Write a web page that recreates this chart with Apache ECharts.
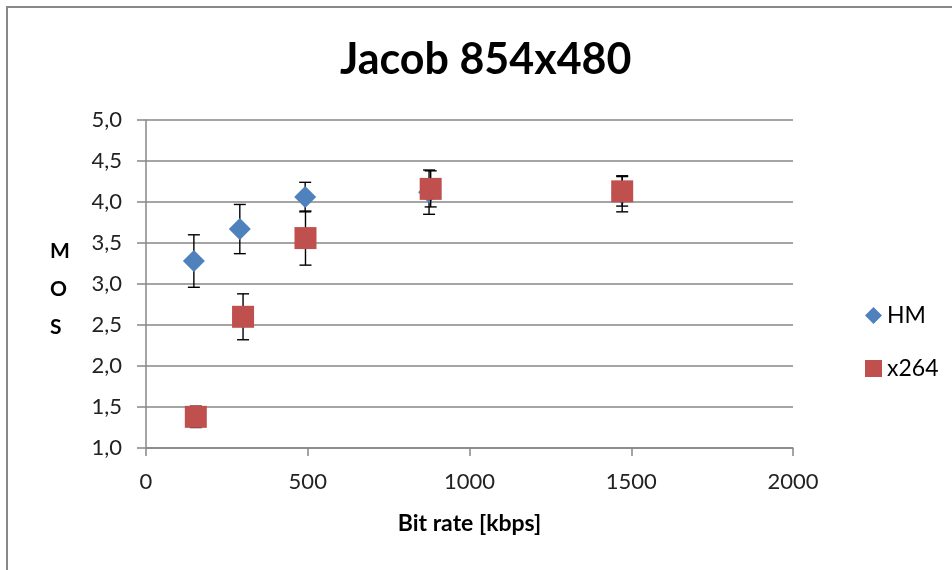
<!DOCTYPE html>
<html><head><meta charset="utf-8">
<script src="https://cdn.jsdelivr.net/npm/echarts@6/dist/echarts.min.js"></script>
<style>html,body{margin:0;padding:0;background:#fff}#c{width:952px;height:570px}</style>
</head><body><div id="c"></div>
<script>
// Data
const hmBitrate   = [148, 290, 492, 875, 1472];
const hmMos       = [3.28, 3.67, 4.06, 4.12, 4.10];
const hmCi        = [0.32, 0.30, 0.18, 0.27, 0.22];
const x264Bitrate = [154, 300, 493, 880, 1472];
const x264Mos     = [1.38, 2.60, 3.56, 4.16, 4.13];
const x264Ci      = [0.13, 0.28, 0.33, 0.22, 0.18];
const yTickValues = [1.0, 1.5, 2.0, 2.5, 3.0, 3.5, 4.0, 4.5, 5.0];
const yTickLabels = ['1,0','1,5','2,0','2,5','3,0','3,5','4,0','4,5','5,0'];
const xTickLabels = ['0','500','1000','1500','2000'];

const FONT = 'Lato';
const GRID = '#878787';

function pts(xs, ys){ return xs.map((x,i)=>[x, ys[i]]); }
function errs(xs, ys, cs){ return xs.map((x,i)=>[x, ys[i]-cs[i], ys[i]+cs[i]]); }

function errRender(params, api){
  const x = api.value(0), lo = api.value(1), hi = api.value(2);
  const t = api.coord([x, hi]), b = api.coord([x, lo]);
  const w = 6;
  const st = {stroke:'#000', lineWidth:1.4};
  return {type:'group', children:[
    {type:'line', shape:{x1:t[0], y1:t[1], x2:b[0], y2:b[1]}, style:st},
    {type:'line', shape:{x1:t[0]-w, y1:t[1], x2:t[0]+w, y2:t[1]}, style:st},
    {type:'line', shape:{x1:b[0]-w, y1:b[1], x2:b[0]+w, y2:b[1]}, style:st}
  ]};
}

const chart = echarts.init(document.getElementById('c'), null, {renderer:'canvas'});
chart.setOption({
  animation:false,
  backgroundColor:'#fff',
  graphic:[
    {type:'rect', shape:{x:7, y:7, width:1100, height:1100}, style:{fill:'none', stroke:'#888', lineWidth:2}, silent:true},
    {type:'text', left:50, top:232, style:{text:'M\nO\nS', fontFamily:FONT, fontWeight:'bold', fontSize:21, lineHeight:38, fill:'#000', align:'center'}, silent:true}
  ],
  title:{text:'Jacob 854x480', left:335, top:34, textStyle:{fontFamily:FONT, fontWeight:'bold', fontSize:43, color:'#000'}},
  grid:{left:146, right:159, top:120, bottom:122},
  legend:{
    orient:'vertical', left:860, top:299, itemWidth:17, itemHeight:17, itemGap:30,
    textStyle:{fontFamily:FONT, fontSize:23, color:'#000'},
    data:[{name:'HM', icon:'diamond'},{name:'x264', icon:'rect'}]
  },
  xAxis:{
    type:'value', min:0, max:2000, interval:500,
    name:'Bit rate [kbps]', nameLocation:'middle', nameGap:64,
    nameTextStyle:{fontFamily:FONT, fontWeight:'bold', fontSize:23, color:'#000'},
    axisLine:{show:true, lineStyle:{color:GRID, width:1.5}},
    axisTick:{show:true, length:8, lineStyle:{color:GRID, width:1.5}},
    axisLabel:{fontFamily:FONT, fontSize:22, color:'#222', margin:23,
      formatter:v=>xTickLabels[Math.round(v/500)]},
    splitLine:{show:false}
  },
  yAxis:{
    type:'value', min:1, max:5, interval:0.5,
    axisLine:{show:true, lineStyle:{color:GRID, width:1.5}},
    axisTick:{show:true, length:9, lineStyle:{color:GRID, width:1.5}},
    axisLabel:{fontFamily:FONT, fontSize:22, color:'#222', margin:24,
      formatter:v=>yTickLabels[yTickValues.findIndex(t=>Math.abs(t-v)<1e-6)]},
    splitLine:{show:true, lineStyle:{color:GRID, width:1.5}}
  },
  series:[
    {name:'HM-err', type:'custom', renderItem:errRender, data:errs(hmBitrate, hmMos, hmCi), encode:{x:0, y:[1,2]}, z:2, silent:true},
    {name:'HM', type:'scatter', symbol:'diamond', symbolSize:22, data:pts(hmBitrate, hmMos), itemStyle:{color:'#4F81BD', opacity:1}, z:3},
    {name:'x264-err', type:'custom', renderItem:errRender, data:errs(x264Bitrate, x264Mos, x264Ci), encode:{x:0, y:[1,2]}, z:4, silent:true},
    {name:'x264', type:'scatter', symbol:'rect', symbolSize:22, data:pts(x264Bitrate, x264Mos), itemStyle:{color:'#C0504D', opacity:1}, z:5}
  ]
});
</script></body></html>
